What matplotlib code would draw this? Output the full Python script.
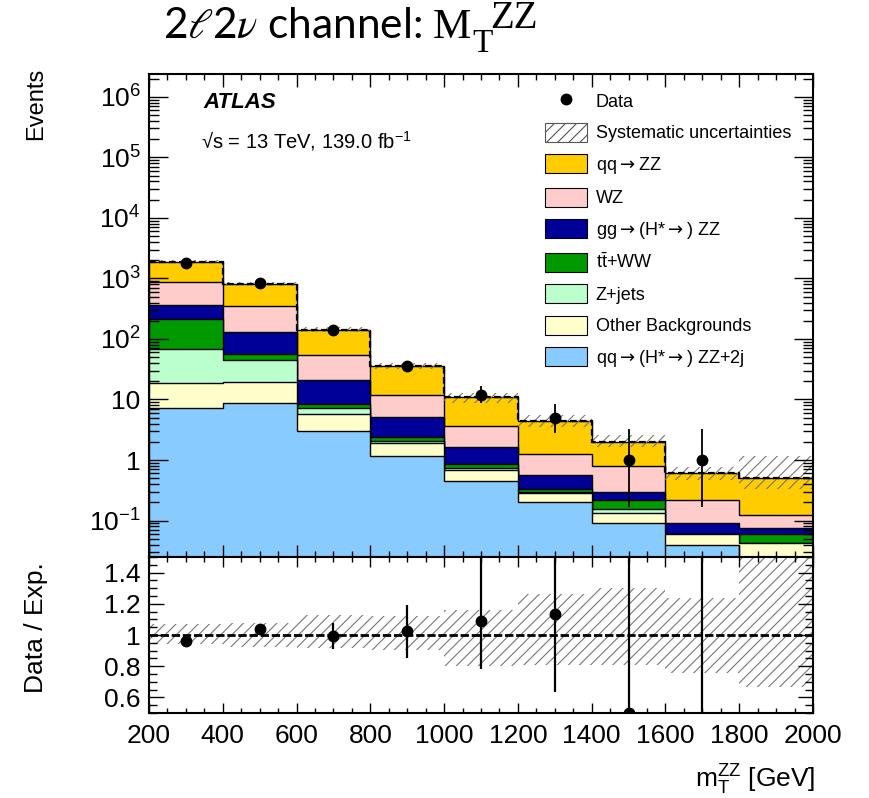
import numpy as np
import matplotlib.pyplot as plt
from matplotlib.patches import Patch
from matplotlib.lines import Line2D
from matplotlib.ticker import FixedLocator, LogLocator, MultipleLocator, NullFormatter

plt.rcParams['font.family'] = ['Liberation Sans', 'DejaVu Sans']
plt.rcParams['mathtext.fontset'] = 'custom'
plt.rcParams['mathtext.rm'] = 'Liberation Sans'
plt.rcParams['mathtext.it'] = 'Liberation Sans:italic'
plt.rcParams['mathtext.bf'] = 'Liberation Sans:bold'
plt.rcParams['hatch.linewidth'] = 0.8

# m_T^ZZ binning [GeV]
edges = np.arange(200, 2001, 200)

# expected yields per bin, stacked bottom -> top
qq_zz2j = [7.16, 8.65, 3.05, 1.16, 0.455, 0.205, 0.092, 0.039, 0.010]
other_bkg = [11.8, 10.85, 2.71, 0.73, 0.225, 0.085, 0.043, 0.022, 0.032]
z_jets = [48.6, 25.5, 1.44, 0.20, 0.05, 0.01, 0.018, 0.0, 0.001]
tt_ww = [144, 10.8, 1.2, 0.34, 0.13, 0.03, 0.065, 0.0, 0.018]
gg_zz = [153, 76, 12.6, 2.77, 0.76, 0.23, 0.082, 0.029, 0.015]
wz = [520, 219, 33.5, 6.5, 2.03, 0.70, 0.50, 0.128, 0.047]
qq_zz = [1012, 460, 86.5, 23.5, 7.35, 3.14, 1.2, 0.402, 0.377]

data = [1820, 840, 140, 36, 12, 5, 1, 1, 0]
data_err_lo = [43, 29, 12, 6, 3.4, 2.2, 0.83, 0.83, 0]
data_err_hi = [43, 29, 12, 6, 4.6, 3.4, 2.3, 2.3, 1.84]

# relative systematic uncertainty on the total expectation
syst_up = [0.07, 0.08, 0.13, 0.12, 0.16, 0.26, 0.30, 0.24, 1.30]
syst_dn = [0.06, 0.08, 0.085, 0.095, 0.20, 0.19, 0.19, 0.245, 0.335]

arrow = r'$\rightarrow$'
stack = [
    (qq_zz2j, '#88ccff', f'qq{arrow}(H*{arrow}) ZZ+2j'),
    (other_bkg, '#ffffcc', 'Other Backgrounds'),
    (z_jets, '#bbffcc', 'Z+jets'),
    (tt_ww, '#009900', r'$\mathrm{t\bar{t}}$+WW'),
    (gg_zz, '#000099', f'gg{arrow}(H*{arrow}) ZZ'),
    (wz, '#ffcccc', 'WZ'),
    (qq_zz, '#ffcc00', f'qq{arrow}ZZ'),
]

centers = 0.5 * (edges[:-1] + edges[1:])
cum = np.cumsum([np.array(s[0], dtype=float) for s in stack], axis=0)
total = cum[-1]
data = np.array(data, dtype=float)
lo = np.array(data_err_lo)
hi = np.array(data_err_hi)
up = np.array(syst_up)
dn = np.array(syst_dn)
has_data = data > 0

fig = plt.figure(figsize=(8.69, 7.98), dpi=100)
ax = fig.add_axes([0.1715, 0.302, 0.764, 0.6055])
rax = fig.add_axes([0.1715, 0.1065, 0.764, 0.1955])

# ---- main panel ----
for i in range(len(stack) - 1, -1, -1):
    ax.stairs(cum[i], edges, baseline=1e-4, fill=True,
              facecolor=stack[i][1], edgecolor='black', lw=1.0)

ax.stairs(total * (1 + up), edges, baseline=total * (1 - dn), fill=True,
          facecolor='none', edgecolor='#777777', hatch='///', lw=0)
ax.stairs(total, edges, baseline=None, color='black', lw=1.6, ls=(0, (3, 1.5)))

ax.errorbar(centers[has_data], data[has_data],
            yerr=[lo[has_data], hi[has_data]],
            fmt='o', color='black', ms=7.5, lw=1.3, capsize=0, zorder=5)

ax.set_yscale('log')
ax.set_xlim(200, 2000)
ax.set_ylim(0.025, 2.4e6)
ax.yaxis.set_major_locator(FixedLocator([1e-1, 1, 10, 1e2, 1e3, 1e4, 1e5, 1e6]))
ax.set_yticklabels([r'$10^{-1}$', '1', '10', r'$10^{2}$', r'$10^{3}$',
                    r'$10^{4}$', r'$10^{5}$', r'$10^{6}$'])
ax.yaxis.set_minor_locator(LogLocator(base=10, subs=np.arange(2, 10)))
ax.yaxis.set_minor_formatter(NullFormatter())
ax.xaxis.set_major_locator(MultipleLocator(200))
ax.xaxis.set_minor_locator(MultipleLocator(50))
ax.tick_params(which='both', direction='in', top=True, right=True,
               labelbottom=False, labelsize=19, width=1.0, pad=6)
ax.tick_params(axis='y', which='major', length=14)
ax.tick_params(axis='y', which='minor', length=7)
ax.tick_params(axis='x', which='major', length=9)
ax.tick_params(axis='x', which='minor', length=4.5)

handles = [Line2D([], [], marker='o', ls='none', color='black', ms=7.5),
           Patch(facecolor='white', edgecolor='#555555', hatch='///', lw=0.8)]
labels = ['Data', 'Systematic uncertainties']
for vals, col, lab in stack[::-1]:
    handles.append(Patch(facecolor=col, edgecolor='black', lw=0.8))
    labels.append(lab)
leg = ax.legend(handles, labels, loc='upper left',
                bbox_to_anchor=(545 / 869, 1 - 91 / 798), bbox_transform=fig.transFigure,
                frameon=False, fontsize=13, borderpad=0, borderaxespad=0,
                handlelength=2.35, handleheight=1.25, handletextpad=0.45,
                labelspacing=0.66)
for t in leg.get_texts():
    if 'rightarrow' in t.get_text():
        t.set_math_fontfamily('dejavusans')

fig.text(203 / 869, 1 - 103 / 798, 'ATLAS', fontsize=16, fontweight='bold',
         fontstyle='italic', va='center')
fig.text(201 / 869, 1 - 141 / 798, r'√s = 13 TeV, 139.0 fb$^{-1}$', fontsize=14.5,
         va='center')

# ---- ratio panel ----
rax.stairs(1 + up, edges, baseline=1 - dn, fill=True, facecolor='none',
           edgecolor='#777777', hatch='///', lw=0)
rax.axhline(1, color='black', lw=2.0, ls=(0, (3, 1)))

ratio = data / total
rax.errorbar(centers[has_data], ratio[has_data],
             yerr=[lo[has_data] / total[has_data], hi[has_data] / total[has_data]],
             fmt='o', color='black', ms=7.5, lw=1.6, capsize=0, zorder=5)

rax.set_xlim(200, 2000)
rax.set_ylim(0.5, 1.5)
rax.set_yticks([0.6, 0.8, 1.0, 1.2, 1.4])
rax.set_yticklabels(['0.6', '0.8', '1', '1.2', '1.4'])
rax.yaxis.set_minor_locator(MultipleLocator(0.05))
rax.xaxis.set_major_locator(MultipleLocator(200))
rax.xaxis.set_minor_locator(MultipleLocator(50))
rax.tick_params(which='both', direction='in', top=True, right=True,
                labelsize=19, width=1.0)
rax.tick_params(axis='y', which='major', length=11, pad=6)
rax.tick_params(axis='y', which='minor', length=5.5)
rax.tick_params(axis='x', which='major', length=7, pad=8)
rax.tick_params(axis='x', which='minor', length=3.5)

for a in (ax, rax):
    for sp in a.spines.values():
        sp.set_linewidth(1.5)

fig.text(0.041, 1 - 68 / 798, 'Events', rotation=90, ha='center', va='top',
         fontsize=17)
fig.text(0.041, 1 - 628 / 798, 'Data / Exp.', rotation=90, ha='center',
         va='center', fontsize=19)
fig.text(815 / 869, 1 - 780 / 798, r'$\mathrm{m}_{\mathrm{T}}^{\mathrm{ZZ}}$ [GeV]',
         ha='right', va='center', fontsize=19)

# slide title: sans text followed by a serif M with large T / ZZ scripts
fig.text(163 / 869, 1 - 38 / 798, r'2$\ell$2$\nu$ channel:',
         fontsize=30.5, family=['Lato', 'DejaVu Sans'], math_fontfamily='stix',
         va='baseline')
serif = ['Liberation Serif', 'DejaVu Serif']
fig.text(433 / 869, 1 - 38 / 798, 'M', fontsize=31, family=serif, va='baseline')
fig.text(472 / 869, 1 - 52 / 798, 'T', fontsize=24, family=serif, va='baseline')
fig.text(490 / 869, 1 - 28 / 798, 'ZZ', fontsize=28, family=serif, va='baseline')

fig.savefig('out.png', dpi=100)
